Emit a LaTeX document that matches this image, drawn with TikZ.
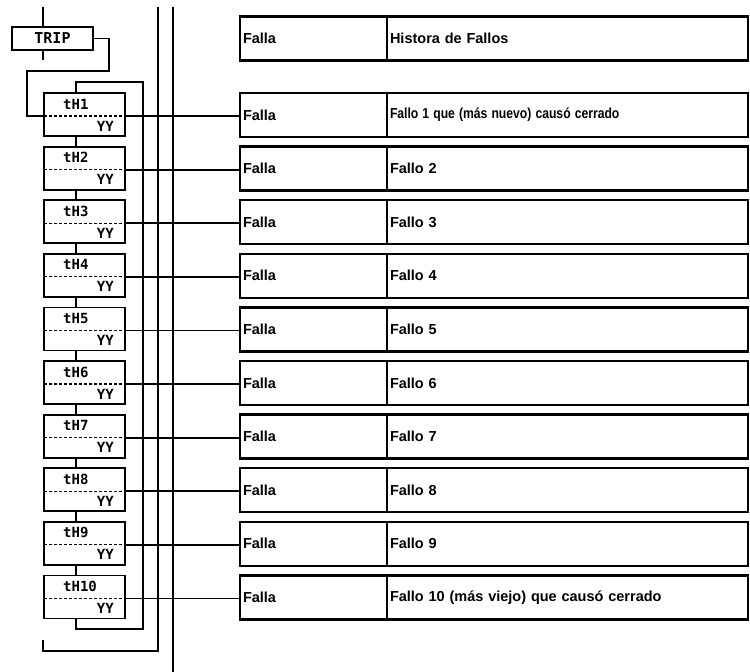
\documentclass[tikz,border=0pt]{standalone}
\usepackage{fontspec}
\setmainfont{Liberation Sans}
\newfontfamily\lcdfont{DejaVu Sans Mono}
\usepackage{graphicx}
\usetikzlibrary{positioning, calc}
\tikzset{
    wire/.style={line width=1.8pt},
    lcdbox/.style={draw, line width=1.8pt, minimum width=81pt, minimum height=43pt, inner sep=0pt, outer sep=0pt},
    lcdtext/.style={font=\lcdfont\bfseries\fontsize{14}{14}\selectfont, inner sep=0pt},
    cellbox/.style={draw, line width=2.4pt, minimum height=44pt, inner xsep=3pt, inner ysep=0pt, outer sep=0pt, align=left, font=\bfseries\fontsize{14.5}{16}\selectfont},
    splitline/.style={line width=1.2pt, dash pattern=on 3pt off 2pt}
}
\begin{document}
\begin{tikzpicture}[x=1pt,y=-1pt]
    \useasboundingbox (0,0) rectangle (750,672);
    % header row
    \node[cellbox, text width=141pt] (f0) at (313.5,38.5) {Falla};
    \node[cellbox, text width=355pt, anchor=west] (h0) at (f0.east) {Histora de Fallos};
    % trip display
    \node[lcdbox, minimum height=23pt, font=\lcdfont\bfseries\fontsize{15}{15}\selectfont] (trip) at (52.5,38.5) {TRIP};
    \draw[wire] ([xshift=-9.5pt]trip.north) -- ++(0,-20);
    \draw[wire] ([xshift=-9.5pt]trip.south) -- ++(0,10);
    % fault displays and table rows
    \foreach \i/\desc in {1/{\scalebox{0.84}[1]{Fallo 1 que (más nuevo) causó cerrado}},2/Fallo 2,3/Fallo 3,4/Fallo 4,5/Fallo 5,6/Fallo 6,7/Fallo 7,8/Fallo 8,9/Fallo 9,10/Fallo 10 (más viejo) que causó cerrado} {
        \pgfmathsetmacro\toprow{93+53.6*(\i-1)}
        \node[lcdbox] (b\i) at (84.5,\toprow+21.5) {};
        \coordinate (d\i) at (44,\toprow+23);
        \draw[splitline] (d\i) -- (b\i.east |- d\i);
        \node[lcdtext, anchor=west] (t\i) at (63,\toprow+11) {tH\i};
        \node[lcdtext, anchor=east] (y\i) at (114,\toprow+33) {YY};
        \node[cellbox, text width=141pt] (f\i) at (313.5,\toprow+22) {Falla};
        \node[cellbox, text width=355pt, anchor=west] (h\i) at (f\i.east) {\desc};
        \draw[wire] (b\i.east |- d\i) -- (f\i.west |- d\i);
    }
    \foreach \i [evaluate=\i as \j using int(\i+1)] in {1,...,9}
        \draw[wire] ([xshift=-8.5pt]b\i.south) -- ([xshift=-8.5pt]b\j.north);
    % trip into first display
    \coordinate (tripbend) at (109,71);
    \coordinate (tripin) at (27,116);
    \draw[wire] (trip.east) -| (tripbend) -| (tripin) -- (d1);
    % return loop
    \coordinate (ret) at (143,629);
    \draw[wire] ([xshift=-8.5pt]b1.north) -- ++(0,-11) -| (ret) -| ([xshift=-8.5pt]b10.south);
    % bus lines
    \coordinate (busa) at (158,7);
    \coordinate (busb) at (173,7);
    \draw[wire] (busa) -- (158,651) -| (43,640);
    \draw[wire] (busb) -- (173,672);
\end{tikzpicture}
\end{document}
